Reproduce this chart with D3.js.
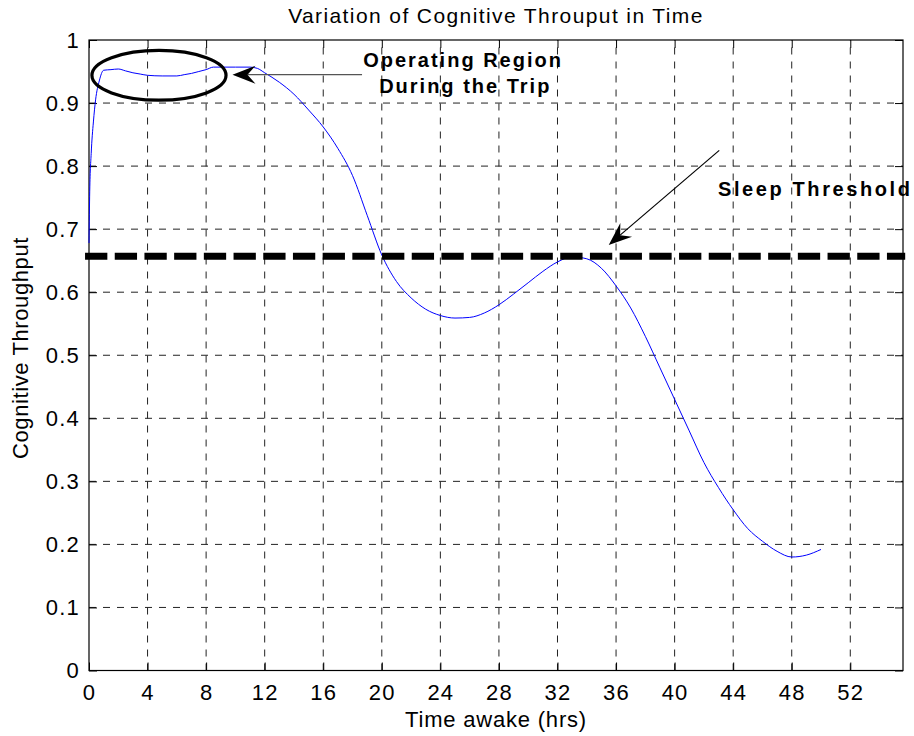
<!DOCTYPE html>
<html>
<head>
<meta charset="utf-8">
<script src="https://cdn.jsdelivr.net/npm/d3@7"></script>
<style>
  html, body { margin: 0; padding: 0; background: #fff; }
  svg { display: block; font-family: "Liberation Sans", Arial, Helvetica, sans-serif; }
</style>
</head>
<body>
<svg id="chart" width="914" height="736"></svg>
<script>
// Hours awake and the modelled cognitive throughput at each time
const hours = [0, 0.05, 0.15, 0.3, 0.45, 0.7, 1.0, 1.5, 2, 2.5, 3, 3.5, 4, 5, 6, 6.5, 7, 7.5, 8, 8.5, 9, 10, 11, 11.5,
  12, 13, 14, 15, 16, 17, 18, 19, 20, 21, 22, 23, 24, 25, 26, 27, 28, 29, 30, 31, 32, 33, 34, 35, 36,
  37, 38, 39, 40, 41, 42, 43, 44, 45, 46, 47, 48, 49, 50];
const throughput = [0.678, 0.76, 0.82, 0.87, 0.905, 0.935, 0.952, 0.953, 0.954, 0.951, 0.948, 0.946, 0.944, 0.943, 0.943, 0.945, 0.947, 0.95, 0.953, 0.957, 0.957, 0.957, 0.957, 0.955,
  0.948, 0.933, 0.914, 0.889, 0.862, 0.828, 0.785, 0.722, 0.659, 0.617, 0.591, 0.573, 0.563, 0.559, 0.56, 0.567, 0.58, 0.597, 0.615, 0.633, 0.648, 0.656, 0.653, 0.638, 0.61,
  0.575, 0.53, 0.48, 0.43, 0.38, 0.33, 0.29, 0.255, 0.225, 0.205, 0.189, 0.18, 0.183, 0.192];

const sleepThreshold = 0.657;

const xTicks = [0, 4, 8, 12, 16, 20, 24, 28, 32, 36, 40, 44, 48, 52];
const yTicks = [0, 0.1, 0.2, 0.3, 0.4, 0.5, 0.6, 0.7, 0.8, 0.9, 1];
const yTickLabels = ["0", "0.1", "0.2", "0.3", "0.4", "0.5", "0.6", "0.7", "0.8", "0.9", "1"];

const titleText = "Variation of Cognitive Throuput in Time";
const xLabelText = "Time awake (hrs)";
const yLabelText = "Cognitive Throughput";
const regionLabel = ["Operating Region", "During the Trip"];
const thresholdLabel = "Sleep Threshold";

const plot = { left: 89, right: 903, top: 40, bottom: 670.5 };
const svg = d3.select("#chart");

const x = d3.scaleLinear().domain([0, 55.6]).range([plot.left, plot.right]);
const y = d3.scaleLinear().domain([0, 1]).range([plot.bottom, plot.top]);

// grid (dotted-style dashes)
const grid = svg.append("g").attr("fill", "none").attr("stroke", "#222").attr("stroke-width", 1)
  .attr("stroke-dasharray", "7,7");
xTicks.filter(t => t > 0).forEach(t => {
  grid.append("line").attr("x1", x(t)).attr("x2", x(t)).attr("y1", plot.bottom).attr("y2", plot.top);
});
yTicks.filter(t => t > 0 && t < 1).forEach(t => {
  grid.append("line").attr("x1", plot.left).attr("x2", plot.right).attr("y1", y(t)).attr("y2", y(t));
});

// axes with inward ticks on all four sides
const tickLen = 8;
function styleAxis(g) {
  g.select(".domain").remove();
  g.selectAll(".tick line").attr("stroke", "#000");
  g.selectAll("text").attr("fill", "#000").attr("font-family", null)
    .style("font-size", "22px").style("letter-spacing", "1.2px");
}
const axB = d3.axisBottom(x).tickValues(xTicks).tickSizeInner(-tickLen).tickSizeOuter(0).tickPadding(14)
  .tickFormat(d3.format("d"));
const axT = d3.axisTop(x).tickValues(xTicks).tickSizeInner(-tickLen).tickSizeOuter(0).tickFormat("");
const axL = d3.axisLeft(y).tickValues(yTicks).tickSizeInner(-tickLen).tickSizeOuter(0).tickPadding(9)
  .tickFormat((d, i) => yTickLabels[i]);
const axR = d3.axisRight(y).tickValues(yTicks).tickSizeInner(-tickLen).tickSizeOuter(0).tickFormat("");

svg.append("g").attr("transform", `translate(0,${plot.bottom})`).call(axB).call(styleAxis);
svg.append("g").attr("transform", `translate(0,${plot.top})`).call(axT).call(styleAxis);
svg.append("g").attr("transform", `translate(${plot.left},0)`).call(axL).call(styleAxis);
svg.append("g").attr("transform", `translate(${plot.right},0)`).call(axR).call(styleAxis);

// box
svg.append("rect").attr("x", plot.left).attr("y", plot.top)
  .attr("width", plot.right - plot.left).attr("height", plot.bottom - plot.top)
  .attr("fill", "none").attr("stroke", "#000").attr("stroke-width", 1.2);

// throughput curve
const line = d3.line().x((d, i) => x(hours[i])).y(d => y(d)).curve(d3.curveMonotoneX);
svg.append("path").datum(throughput).attr("d", line)
  .attr("fill", "none").attr("stroke", "#0000ff").attr("stroke-width", 1);

// sleep threshold
svg.append("line").attr("x1", x(-0.27)).attr("x2", x(55.75))
  .attr("y1", y(sleepThreshold)).attr("y2", y(sleepThreshold))
  .attr("stroke", "#000").attr("stroke-width", 7).attr("stroke-dasharray", "22.3,7.4");

// annotation helpers
function arrow(x1, y1, x2, y2, color) {
  const g = svg.append("g");
  const ang = Math.atan2(y2 - y1, x2 - x1);
  const L = 23, W = 9, notch = 15;
  g.append("line").attr("x1", x1).attr("y1", y1)
    .attr("x2", x2 - Math.cos(ang) * notch).attr("y2", y2 - Math.sin(ang) * notch)
    .attr("stroke", color).attr("stroke-width", 1.2);
  const pts = [[0, 0], [-L, -W], [-notch, 0], [-L, W]].map(([a, b]) =>
    [x2 + a * Math.cos(ang) - b * Math.sin(ang), y2 + a * Math.sin(ang) + b * Math.cos(ang)]);
  g.append("polygon").attr("points", pts.map(p => p.join(",")).join(" ")).attr("fill", "#000");
}

// operating region ellipse
svg.append("ellipse").attr("cx", x(4.78)).attr("cy", y(0.944))
  .attr("rx", x(4.58) - x(0)).attr("ry", y(0) - y(0.0395))
  .attr("fill", "none").attr("stroke", "#000").attr("stroke-width", 3.2);

arrow(x(18.65), y(0.945), x(9.8), y(0.945), "#555");
arrow(x(43.05), y(0.825), x(35.5), y(0.675), "#000");

const bold = { "font-size": "20px", "font-weight": "bold", "letter-spacing": "2px" };
function addText(str, px, py, anchor, attrs) {
  const t = svg.append("text").attr("x", px).attr("y", py).attr("text-anchor", anchor).attr("fill", "#000").text(str);
  Object.entries(attrs).forEach(([k, v]) => t.style(k, v));
  return t;
}
addText(regionLabel[0], x(25.55), y(0.957), "middle", bold);
addText(regionLabel[1], x(25.7), y(0.916), "middle", bold);
addText(thresholdLabel, 718, 196, "start", Object.assign({}, bold, { "letter-spacing": "2.6px" }));

// titles
addText(titleText, (plot.left + plot.right) / 2, 23, "middle", { "font-size": "21px", "letter-spacing": "1.4px" });
addText(xLabelText, (plot.left + plot.right) / 2, 727, "middle", { "font-size": "22px", "letter-spacing": "0.8px" });
svg.append("text").attr("transform", `translate(28,348) rotate(-90)`)
  .attr("text-anchor", "middle").style("font-size", "22px").style("letter-spacing", "0.6px").text(yLabelText);
</script>
</body>
</html>
